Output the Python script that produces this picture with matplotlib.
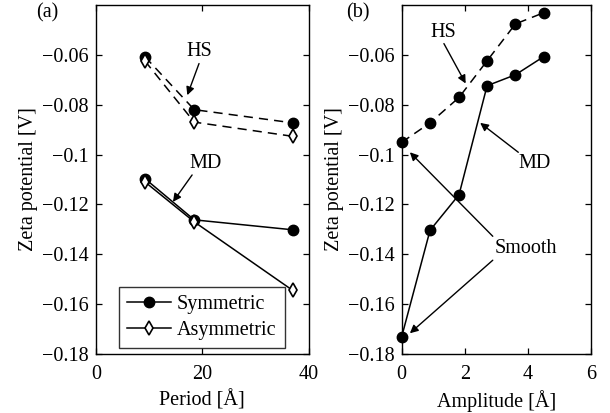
import matplotlib
matplotlib.use("Agg")
import matplotlib.pyplot as plt

plt.rcParams['font.family'] = ['Liberation Serif', 'DejaVu Serif']
plt.rcParams['mathtext.fontset'] = 'stix'

# (a) zeta potential vs. roughness period
period = [9.25, 18.5, 37.0]
hs_sym = [-0.0608, -0.082, -0.0873]
hs_asym = [-0.0625, -0.0870, -0.0927]
md_sym = [-0.1097, -0.1262, -0.1302]
md_asym = [-0.1110, -0.1270, -0.1545]

# (b) zeta potential vs. roughness amplitude
amplitude = [0.0, 0.9, 1.82, 2.71, 3.61, 4.51]
hs_amp = [-0.0951, -0.0873, -0.0771, -0.0624, -0.0476, -0.0431]
md_amp = [-0.1731, -0.1304, -0.1161, -0.0724, -0.0680, -0.0607]

FS = 14.5
fig = plt.figure(figsize=(6.10, 4.13), dpi=100)
axa = fig.add_axes([0.157, 0.143, 0.349, 0.845])
axb = fig.add_axes([0.6585, 0.143, 0.310, 0.845])

lw = 1.1
axa.plot(period, hs_sym, '--', color='k', lw=lw, marker='o', ms=7.5, mfc='k', mec='k', dashes=(6, 4))
axa.plot(period, hs_asym, '--', color='k', lw=lw, marker='d', ms=7.5, mfc='white', mec='k', mew=1.2, dashes=(6, 4))
l1, = axa.plot(period, md_sym, '-', color='k', lw=lw, marker='o', ms=7.5, mfc='k', mec='k', label='Symmetric')
l2, = axa.plot(period, md_asym, '-', color='k', lw=lw, marker='d', ms=7.5, mfc='white', mec='k', mew=1.2, label='Asymmetric')

axb.plot(amplitude, hs_amp, '--', color='k', lw=lw, marker='o', ms=7.5, mfc='k', mec='k', dashes=(6, 4), clip_on=False)
axb.plot(amplitude, md_amp, '-', color='k', lw=lw, marker='o', ms=7.5, mfc='k', mec='k', clip_on=False)

yticks = [-0.18, -0.16, -0.14, -0.12, -0.1, -0.08, -0.06]
ylabels = ['\u22120.18', '\u22120.16', '\u22120.14', '\u22120.12', '\u22120.1', '\u22120.08', '\u22120.06']

for ax, xl, xt, xlab in [(axa, (0, 40), [0, 20, 40], 'Period [\u00c5]'),
                         (axb, (0, 6), [0, 2, 4, 6], 'Amplitude [\u00c5]')]:
    ax.set_xlim(*xl)
    ax.set_ylim(-0.18, -0.04)
    ax.set_xticks(xt)
    ax.set_xticklabels([str(v) for v in xt], fontsize=FS)
    ax.set_yticks(yticks)
    ax.set_yticklabels(ylabels, fontsize=FS)
    ax.tick_params(direction='in', top=True, right=True, length=4, width=0.9)
    ax.tick_params(axis='x', pad=8)
    ax.tick_params(axis='y', pad=5)
    ax.set_xlabel(xlab, fontsize=FS, labelpad=4)
    ax.set_ylabel('Zeta potential [V]', fontsize=FS, labelpad=3)
    for s in ax.spines.values():
        s.set_linewidth(1.0)

arrow = dict(arrowstyle='-|>', color='k', lw=1.0, mutation_scale=12, shrinkA=0, shrinkB=0)

# annotations, panel (a)
axa.text(19.4, -0.0588, 'HS', fontsize=FS, ha='center', va='center')
axa.annotate('', xy=(17.2, -0.0762), xytext=(19.4, -0.0635), arrowprops=arrow)
axa.text(20.6, -0.1036, 'MD', fontsize=FS, ha='center', va='center')
axa.annotate('', xy=(14.5, -0.1190), xytext=(18.1, -0.1082), arrowprops=arrow)

# annotations, panel (b)
axb.text(1.32, -0.0512, 'HS', fontsize=FS, ha='center', va='center')
axb.annotate('', xy=(2.03, -0.0715), xytext=(1.34, -0.0555), arrowprops=arrow)
axb.text(4.23, -0.1036, 'MD', fontsize=FS, ha='center', va='center')
axb.annotate('', xy=(2.49, -0.0873), xytext=(3.70, -0.0991), arrowprops=arrow)
axb.text(3.94, -0.1379, 'Smooth', fontsize=FS, ha='center', va='center')
axb.annotate('', xy=(0.26, -0.0991), xytext=(2.89, -0.1328), arrowprops=arrow)
axb.annotate('', xy=(0.26, -0.1717), xytext=(2.89, -0.1424), arrowprops=arrow)

leg = axa.legend(handles=[l1, l2], loc='lower right', bbox_to_anchor=(0.887, 0.018),
                 fontsize=FS, frameon=True, fancybox=False, edgecolor='k',
                 handlelength=2.2, handletextpad=0.3, borderpad=0.4,
                 labelspacing=0.3, borderaxespad=0.0)
leg.get_frame().set_linewidth(1.0)

fig.text(47 / 610, 1 - 13 / 413, '(a)', fontsize=FS, ha='center', va='center')
fig.text(358 / 610, 1 - 13 / 413, '(b)', fontsize=FS, ha='center', va='center')

fig.savefig('out.png', dpi=100)
